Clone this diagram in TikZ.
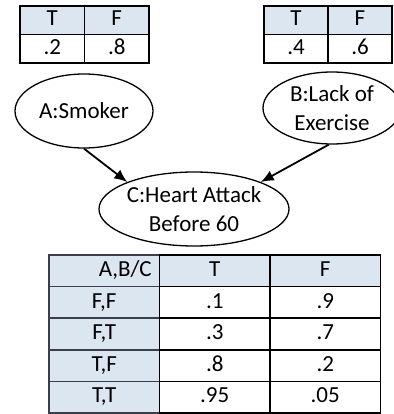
\documentclass[tikz,border=0pt]{standalone}
\usepackage{fontspec}
\setmainfont{Carlito}
\usepackage{tikz}
\usetikzlibrary{arrows.meta,positioning,shapes.geometric}
\definecolor{headblue}{HTML}{DCE6F1}
\definecolor{gridgray}{HTML}{3A3F4A}

\begin{document}
\begin{tikzpicture}[
  x=1pt,y=-1pt,
  node distance=0pt,
  font=\fontsize{23}{29.5}\selectfont,
  cell/.style={draw,line width=1.6pt,outer sep=0pt,inner sep=0pt,text height=15.5pt,text depth=4pt,minimum width=64.5pt,minimum height=28.5pt},
  head/.style={cell,fill=headblue},
  big/.style={cell,minimum width=110.5pt,minimum height=31.6pt},
  bighead/.style={big,fill=headblue},
  lab/.style={big,fill=headblue,draw=gridgray},
  var/.style={ellipse,draw,line width=1.3pt,inner sep=0pt,align=center},
  arr/.style={-{Latex[length=13pt,width=11pt]},line width=1.8pt}
]
\useasboundingbox (0,0) rectangle (393,414);
% prior of A
\node[head] (aT) at (52.25,20.25) {T};
\node[head,right=of aT] (aF) {F};
\node[cell,below=of aT] (aTv) {.2};
\node[cell,below=of aF] (aFv) {.8};
% prior of B
\node[head,minimum width=64pt] (bT) at (296,20.25) {T};
\node[head,minimum width=64pt,right=of bT] (bF) {F};
\node[cell,minimum width=64pt,below=of bT] (bTv) {.4};
\node[cell,minimum width=64pt,below=of bF] (bFv) {.6};
% the three variables
\node[var,minimum width=138pt,minimum height=74pt] (smoker) at (84,111) {A:Smoker};
\node[var,minimum width=138pt,minimum height=72pt] (exercise) at (332,108) {B:Lack of\\Exercise};
\node[var,minimum width=188pt,minimum height=74pt] (heart) at (194,209) {C:Heart Attack\\Before 60};
\draw[arr] (smoker.south)--(heart.158);
\draw[arr] (exercise.265)--(heart.22);
% conditional table of C
\node[lab,text width=95pt,align=right] (cH) at (104.25,270.8) {A,B/C};
\node[bighead,right=of cH] (cHT) {T};
\node[bighead,right=of cHT] (cHF) {F};
\node[lab,below=of cH] (cFF) {F,F};
\node[big,right=of cFF] (cFFT) {.1};
\node[big,right=of cFFT] (cFFF) {.9};
\node[lab,below=of cFF] (cFT) {F,T};
\node[big,right=of cFT] (cFTT) {.3};
\node[big,right=of cFTT] (cFTF) {.7};
\node[lab,below=of cFT] (cTF) {T,F};
\node[big,right=of cTF] (cTFT) {.8};
\node[big,right=of cTFT] (cTFF) {.2};
\node[lab,below=of cTF] (cTT) {T,T};
\node[big,right=of cTT] (cTTT) {.95};
\node[big,right=of cTTT] (cTTF) {.05};
\end{tikzpicture}
\end{document}
